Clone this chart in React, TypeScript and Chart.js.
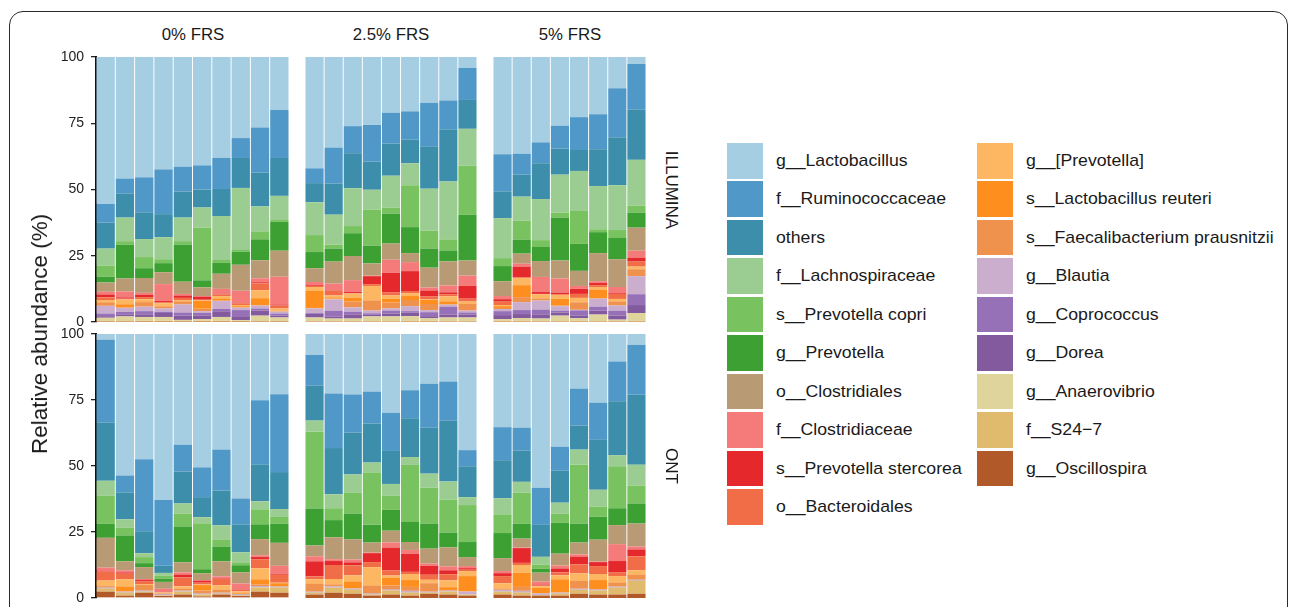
import React, { useEffect, useRef } from "react";
import { Chart, registerables } from "chart.js";
Chart.register(...registerables);

const FONT = '"Liberation Sans", Arial, Helvetica, sans-serif';

const platforms = ["ILLUMINA", "ONT"];
const frsLevels = ["0% FRS", "2.5% FRS", "5% FRS"];
const samplesPerLevel = [10, 9, 8];
const yTicks = [0, 25, 50, 75, 100];

const taxa = [
  "g__Lactobacillus", "f__Ruminococcaceae", "others", "f__Lachnospiraceae",
  "s__Prevotella copri", "g__Prevotella", "o__Clostridiales", "f__Clostridiaceae",
  "s__Prevotella stercorea", "o__Bacteroidales", "g__[Prevotella]", "s__Lactobacillus reuteri",
  "s__Faecalibacterium prausnitzii", "g__Blautia", "g__Coprococcus", "g__Dorea",
  "g__Anaerovibrio", "f__S24\u22127", "g__Oscillospira",
];
const taxaColors = [
  "#A6CEE3", "#5098C7", "#3D8EAA", "#9BCD92", "#79C260", "#3CA033", "#B89B74", "#F47B7A",
  "#E5282C", "#F16D47", "#FDB662", "#FE8F1F", "#EF924D", "#CBAECE", "#9671B7", "#835A9E",
  "#DFD49C", "#E0BA6D", "#B15928",
];

// samples: ILLUMINA 0%(10) 2.5%(9) 5%(8), ONT 0%(10) 2.5%(9) 5%(8)
const g_Lactobacillus = [
  55.7, 46.2, 45.5, 42.5, 41.7, 41.3, 38.3, 30.8, 27.0, 20.2,
  42.5, 34.5, 26.6, 26.3, 21.4, 20.6, 17.6, 16.8, 4.4,
  36.8, 36.8, 32.7, 26.3, 22.9, 22.1, 12.3, 2.9,
  2.6, 54.1, 48.0, 63.6, 42.4, 51.1, 44.3, 62.8, 25.3, 23.5,
  8.3, 23.1, 23.5, 22.7, 30.3, 21.6, 19.3, 18.5, 44.6,
  35.9, 35.9, 59.0, 43.1, 21.2, 26.9, 11.0, 4.5,
];
const f_Ruminococcaceae = [
  7.1, 5.7, 13.2, 16.9, 9.4, 9.1, 11.7, 7.5, 17.0, 18.1,
  5.6, 13.6, 10.2, 13.9, 11.6, 10.6, 16.6, 11.0, 12.1,
  14.0, 7.9, 7.9, 8.6, 12.4, 13.2, 18.5, 17.3,
  31.4, 6.4, 27.3, 24.9, 10.2, 11.3, 15.5, 9.8, 24.3, 29.5,
  11.7, 20.7, 14.4, 12.1, 14.4, 10.6, 16.6, 14.8, 6.1,
  12.5, 8.7, 14.0, 9.1, 14.0, 14.0, 15.1, 18.9,
];
const others = [
  9.8, 9.0, 10.1, 8.7, 9.8, 6.8, 10.2, 11.3, 12.8, 14.3,
  7.2, 11.7, 13.2, 10.6, 12.1, 9.0, 15.8, 19.6, 10.9,
  10.1, 8.3, 13.5, 9.8, 7.9, 13.9, 18.1, 18.9,
  22.0, 10.2, 8.3, 2.7, 12.1, 7.6, 13.2, 10.6, 14.0, 14.0,
  13.2, 17.5, 15.9, 14.8, 12.5, 14.7, 17.4, 23.1, 11.7,
  14.4, 11.8, 12.1, 12.1, 9.1, 18.9, 20.4, 26.5,
];
const f_Lachnospiraceae = [
  6.4, 8.9, 6.8, 8.3, 8.9, 7.5, 16.6, 23.4, 9.4, 9.1,
  12.4, 11.3, 14.3, 7.5, 12.1, 8.3, 15.8, 21.8, 13.9,
  15.1, 9.1, 15.5, 14.3, 15.1, 16.3, 16.9, 17.3,
  5.7, 3.1, 1.5, 1.1, 3.8, 2.3, 5.3, 3.8, 3.0, 3.0,
  4.2, 5.3, 6.8, 3.8, 4.5, 3.0, 5.3, 6.8, 3.0,
  6.1, 4.1, 3.0, 4.2, 5.7, 6.4, 4.2, 7.9,
];
const s_Prevotella_copri = [
  4.2, 1.3, 4.2, 1.5, 1.3, 20.0, 1.1, 0.7, 3.0, 0.7,
  6.4, 1.5, 2.7, 13.6, 2.2, 15.8, 6.8, 4.2, 18.5,
  3.0, 7.1, 2.6, 1.9, 12.4, 1.1, 3.0, 2.6,
  10.6, 3.0, 2.3, 1.1, 4.9, 17.4, 2.7, 1.1, 5.7, 2.6,
  29.1, 4.5, 8.0, 19.7, 5.3, 21.6, 13.6, 12.5, 14.0,
  7.1, 11.8, 1.5, 3.4, 22.3, 3.8, 15.9, 6.8,
];
const g_Prevotella = [
  2.2, 12.8, 3.7, 3.4, 14.0, 2.6, 4.1, 4.9, 7.9, 10.9,
  6.1, 4.9, 8.6, 6.7, 11.3, 9.8, 7.2, 4.1, 17.3,
  5.7, 5.3, 5.3, 16.2, 10.2, 7.9, 8.0, 5.7,
  5.3, 9.8, 1.5, 1.2, 13.6, 1.5, 5.6, 2.7, 5.6, 7.2,
  14.0, 6.5, 9.8, 6.8, 7.9, 7.6, 9.5, 5.6, 5.7,
  9.5, 5.6, 1.5, 11.7, 7.2, 8.7, 6.4, 7.6,
];
const o_Clostridiales = [
  3.5, 4.9, 5.6, 4.5, 4.6, 3.3, 5.7, 9.8, 6.8, 9.8,
  5.2, 8.3, 9.1, 4.6, 6.1, 3.4, 7.5, 9.1, 5.7,
  5.6, 3.8, 6.0, 6.8, 5.7, 10.6, 10.5, 8.7,
  11.3, 3.4, 4.5, 2.6, 3.8, 2.6, 5.7, 4.2, 6.1, 8.7,
  4.1, 8.3, 7.6, 3.8, 4.5, 3.0, 5.7, 7.2, 3.4,
  4.9, 3.4, 3.4, 4.5, 4.5, 8.3, 7.2, 8.7,
];
const f_Clostridiaceae = [
  1.0, 2.2, 0.7, 6.4, 0.6, 0.2, 1.9, 4.5, 1.5, 10.5,
  1.2, 2.3, 4.5, 0.2, 4.9, 3.4, 1.1, 2.6, 3.8,
  1.2, 1.1, 5.7, 5.3, 1.1, 0.7, 2.3, 2.6,
  1.1, 0.8, 0.4, 1.2, 0.8, 0.2, 0.8, 2.2, 0.7, 3.0,
  1.9, 0.7, 1.1, 0.2, 1.9, 1.5, 0.8, 1.5, 0.8,
  0.8, 0.2, 1.1, 1.1, 0.8, 0.2, 6.4, 1.1,
];
const s_Prevotella_stercorea = [
  1.1, 0.5, 0.9, 0.4, 0.9, 1.2, 0.2, 0.2, 0.4, 0.4,
  0.3, 0.3, 0.4, 3.0, 7.5, 7.5, 2.3, 0.7, 4.9,
  0.7, 4.1, 0.7, 0.7, 1.9, 0.8, 0.3, 1.5,
  0.4, 0.5, 0.4, 0.1, 1.1, 0.8, 0.2, 0.2, 0.8, 0.4,
  5.7, 1.5, 1.1, 3.4, 8.7, 6.8, 3.4, 1.5, 0.6,
  1.1, 5.6, 0.4, 1.5, 3.0, 1.5, 4.2, 2.6,
];
const o_Bacteroidales = [
  1.0, 0.3, 0.8, 0.4, 0.8, 0.2, 0.6, 0.7, 2.6, 1.1,
  0.4, 1.9, 0.2, 0.7, 1.1, 0.8, 1.1, 0.8, 1.1,
  1.5, 0.2, 0.2, 0.2, 1.5, 0.7, 1.9, 1.9,
  3.4, 2.1, 1.1, 0.1, 3.4, 0.7, 2.4, 0.6, 3.4, 3.0,
  1.1, 5.3, 3.8, 1.9, 1.9, 0.8, 1.9, 2.3, 0.5,
  2.7, 0.8, 0.2, 1.1, 3.4, 3.0, 1.5, 5.3,
];
const g_Prevotella_bracket = [
  0.7, 1.8, 0.8, 1.0, 0.3, 0.2, 0.9, 0.4, 3.0, 0.8,
  1.5, 0.7, 1.5, 5.3, 1.2, 1.1, 0.2, 1.9, 0.7,
  0.4, 2.7, 1.4, 1.4, 1.5, 1.1, 0.8, 0.8,
  1.9, 2.7, 0.2, 0.3, 0.7, 0.2, 1.5, 0.7, 4.2, 0.2,
  1.5, 1.9, 2.3, 6.8, 0.8, 2.3, 1.1, 2.6, 1.9,
  1.9, 3.0, 0.7, 1.5, 2.6, 2.3, 2.3, 1.5,
];
const s_Lactobacillus_reuteri = [
  0.3, 1.2, 0.3, 0.3, 0.3, 3.0, 0.8, 0.4, 2.6, 0.2,
  6.4, 0.5, 1.5, 0.2, 1.5, 1.5, 1.5, 1.1, 0.2,
  0.7, 4.5, 0.2, 2.6, 0.2, 3.1, 0.2, 0.2,
  0.2, 1.9, 0.2, 0.1, 0.2, 2.1, 0.2, 0.3, 1.9, 1.1,
  0.2, 0.2, 2.6, 0.2, 3.0, 2.6, 0.2, 1.1, 5.7,
  0.2, 5.3, 1.9, 4.9, 0.2, 3.4, 0.2, 0.2,
];
const s_Faecalibacterium_prausnitzii = [
  1.2, 0.2, 1.7, 0.7, 1.1, 0.9, 0.2, 0.2, 0.2, 0.2,
  0.2, 0.3, 2.2, 3.8, 2.2, 2.3, 2.3, 0.2, 2.5,
  0.4, 1.9, 0.7, 0.2, 2.8, 0.2, 1.5, 2.6,
  0.6, 0.1, 2.1, 0.3, 0.7, 1.1, 1.1, 0.1, 0.7, 0.2,
  3.0, 0.7, 0.2, 3.0, 1.5, 1.5, 3.2, 0.2, 0.2,
  0.4, 1.5, 0.2, 0.2, 3.0, 0.2, 1.5, 1.9,
];
const g_Blautia = [
  2.9, 1.5, 1.7, 1.2, 3.0, 0.7, 3.0, 0.9, 1.1, 0.7,
  1.7, 4.2, 1.6, 1.0, 0.8, 1.9, 0.8, 0.7, 0.7,
  0.8, 3.0, 3.4, 1.7, 0.2, 3.0, 1.9, 6.8,
  0.1, 0.1, 0.1, 0.1, 0.1, 0.1, 0.1, 0.1, 0.2, 0.1,
  0.1, 0.2, 0.1, 0.1, 0.1, 0.4, 0.1, 0.1, 0.8,
  0.4, 0.4, 0.3, 0.1, 0.1, 0.1, 0.1, 0.1,
];
const g_Coprococcus = [
  1.0, 0.9, 1.2, 0.5, 1.2, 0.9, 1.1, 2.3, 0.8, 0.8,
  0.2, 2.2, 1.0, 0.4, 1.1, 0.5, 1.5, 3.0, 0.8,
  1.5, 1.5, 1.8, 0.7, 1.9, 1.5, 1.9, 4.1,
  0.1, 0.1, 0.1, 0.1, 0.1, 0.1, 0.1, 0.1, 0.1, 0.1,
  0.1, 0.1, 0.1, 0.1, 0.1, 0.1, 0.1, 0.1, 0.1,
  0.1, 0.1, 0.1, 0.1, 0.1, 0.1, 0.1, 0.1,
];
const g_Dorea = [
  0.6, 0.8, 1.0, 1.5, 1.6, 1.4, 1.9, 1.5, 1.9, 0.7,
  1.5, 0.8, 1.6, 0.8, 1.1, 1.4, 0.8, 1.1, 1.1,
  1.5, 1.5, 1.6, 1.2, 1.1, 1.5, 1.5, 3.0,
  0.1, 0.1, 0.1, 0.1, 0.1, 0.1, 0.1, 0.1, 0.1, 0.1,
  0.1, 0.1, 0.1, 0.1, 0.1, 0.1, 0.1, 0.1, 0.1,
  0.1, 0.1, 0.1, 0.1, 0.1, 0.1, 0.1, 0.1,
];
const g_Anaerovibrio = [
  1.3, 1.8, 1.4, 1.4, 0.5, 0.6, 1.4, 0.3, 2.1, 1.4,
  1.4, 1.0, 1.0, 1.8, 1.8, 1.7, 0.9, 1.4, 1.4,
  0.6, 1.0, 1.0, 2.1, 0.9, 2.5, 0.6, 2.9,
  0.1, 0.1, 0.1, 0.1, 0.1, 0.1, 0.1, 0.1, 0.1, 0.1,
  0.1, 0.1, 0.1, 0.1, 0.1, 0.1, 0.1, 0.1, 0.1,
  0.1, 0.1, 0.1, 0.1, 0.1, 0.1, 0.1, 0.1,
];
const f_S24_7 = [
  0.2, 0.2, 0.4, 0.4, 0.2, 0.4, 0.4, 0.3, 0.2, 0.2,
  0.2, 0.2, 0.2, 0.2, 0.2, 0.4, 0.4, 0.2, 0.2,
  0.4, 0.4, 0.2, 0.2, 0.4, 0.2, 0.2, 0.4,
  1.1, 1.1, 0.4, 0.2, 1.1, 0.7, 0.3, 0.2, 1.6, 1.9,
  0.7, 1.9, 1.5, 0.4, 1.5, 1.1, 0.4, 1.1, 0.4,
  1.1, 1.1, 0.2, 0.7, 1.5, 1.5, 2.6, 4.9,
];
const g_Oscillospira = [
  0.1, 0.1, 0.1, 0.1, 0.1, 0.1, 0.1, 0.1, 0.1, 0.1,
  0.1, 0.1, 0.1, 0.1, 0.1, 0.1, 0.1, 0.1, 0.1,
  0.1, 0.1, 0.1, 0.1, 0.1, 0.1, 0.1, 0.1,
  2.4, 0.9, 2.0, 0.8, 1.3, 0.6, 1.3, 0.8, 2.4, 2.0,
  1.3, 2.0, 1.6, 0.9, 1.3, 0.9, 1.6, 1.3, 0.9,
  1.3, 0.9, 0.9, 0.9, 1.6, 1.3, 1.3, 1.6,
];

const seriesValues = [
  g_Lactobacillus, f_Ruminococcaceae, others, f_Lachnospiraceae, s_Prevotella_copri,
  g_Prevotella, o_Clostridiales, f_Clostridiaceae, s_Prevotella_stercorea, o_Bacteroidales,
  g_Prevotella_bracket, s_Lactobacillus_reuteri, s_Faecalibacterium_prausnitzii, g_Blautia,
  g_Coprococcus, g_Dorea, g_Anaerovibrio, f_S24_7, g_Oscillospira,
];

// layout (pixels)
const colX = [[96, 289], [305, 477], [493, 646]];
const rowY = [[57, 322], [334, 598]];
const Y_AXIS_W = 46;
const PAD = 12;

type PanelProps = { start: number; count: number; showY: boolean; x0: number; x1: number; y0: number; y1: number };

function Panel({ start, count, showY, x0, x1, y0, y1 }: PanelProps) {
  const ref = useRef<HTMLCanvasElement>(null);
  const extra = showY ? Y_AXIS_W : 0;
  const w = x1 - x0 + extra;
  const h = y1 - y0 + 2 * PAD;
  useEffect(() => {
    const labels: string[] = [];
    for (let i = 0; i < count; i++) labels.push("S" + (i + 1));
    const datasets: any[] = [];
    for (let t = taxa.length - 1; t >= 0; t--) {
      datasets.push({
        label: taxa[t],
        data: seriesValues[t].slice(start, start + count),
        backgroundColor: taxaColors[t],
        borderWidth: 0,
        categoryPercentage: 1,
        barPercentage: 0.95,
      });
    }
    const chart = new Chart(ref.current!, {
      type: "bar",
      data: { labels, datasets },
      options: {
        animation: false,
        responsive: false,
        maintainAspectRatio: false,
        layout: { padding: { top: PAD, bottom: PAD, left: 0, right: 0 } },
        plugins: { legend: { display: false }, tooltip: { enabled: false } },
        scales: {
          x: { stacked: true, display: false, grid: { display: false } },
          y: {
            stacked: true,
            min: 0,
            max: 100,
            display: showY,
            afterFit: (s: any) => {
              if (showY) s.width = Y_AXIS_W;
              s.paddingTop = 0;
              s.paddingBottom = 0;
            },
            afterBuildTicks: (s: any) => { s.ticks = yTicks.map((v) => ({ value: v })); },
            ticks: { color: "#222", font: { family: FONT, size: 14 }, padding: 7 },
            grid: { display: true, drawOnChartArea: false, drawTicks: true, tickLength: 5, color: "#222", lineWidth: 1.3 },
            border: { display: true, color: "#111", width: 2 },
          },
        },
      },
    });
    return () => chart.destroy();
  }, []);
  return (
    <canvas
      ref={ref}
      width={w}
      height={h}
      style={{ position: "absolute", left: x0 - extra, top: y0 - PAD, width: w, height: h }}
    />
  );
}

export default function App() {
  const panels: React.ReactNode[] = [];
  for (let p = 0; p < platforms.length; p++) {
    let offset = p * 27;
    for (let l = 0; l < frsLevels.length; l++) {
      panels.push(
        <Panel
          key={p + "-" + l}
          start={offset}
          count={samplesPerLevel[l]}
          showY={l === 0}
          x0={colX[l][0]}
          x1={colX[l][1]}
          y0={rowY[p][0]}
          y1={rowY[p][1]}
        />
      );
      offset += samplesPerLevel[l];
    }
  }
  const textBase: React.CSSProperties = { position: "absolute", fontFamily: FONT, color: "#1a1a1a", whiteSpace: "nowrap" };
  return (
    <div style={{ position: "fixed", left: 0, top: 0, width: 1292, height: 607, overflow: "hidden", background: "#fff" }}>
      <div style={{ position: "absolute", left: 9, top: 11, width: 1279, height: 700, border: "1.5px solid #2a2a2a", borderRadius: 14, boxSizing: "border-box" }} />
      {panels}
      {frsLevels.map((lv, i) => (
        <div key={lv} style={{ ...textBase, left: (colX[i][0] + colX[i][1]) / 2, top: 35, fontSize: 16, transform: "translate(-50%,-50%) scaleX(1.05)" }}>{lv}</div>
      ))}
      {platforms.map((pl, i) => (
        <div key={pl} style={{ ...textBase, left: 671, top: (rowY[i][0] + rowY[i][1]) / 2, fontSize: 17, transform: "translate(-50%,-50%) rotate(90deg)" }}>{pl}</div>
      ))}
      <div style={{ ...textBase, left: 40, top: 334, fontSize: 22.5, transform: "translate(-50%,-50%) rotate(-90deg)" }}>Relative abundance (%)</div>
      {taxa.map((name, i) => {
        const col = i < 10 ? 0 : 1;
        const row = i < 10 ? i : i - 10;
        const sx = col === 0 ? 727 : 977;
        const top = 143 + row * 38.45;
        return (
          <React.Fragment key={name}>
            <div style={{ position: "absolute", left: sx, top, width: 36, height: 35.5, background: taxaColors[i] }} />
            <div style={{ ...textBase, left: sx + 49, top: top + 18, fontSize: 17, transformOrigin: "left center", transform: "translateY(-50%) scaleX(1.04)" }}>{name}</div>
          </React.Fragment>
        );
      })}
    </div>
  );
}
